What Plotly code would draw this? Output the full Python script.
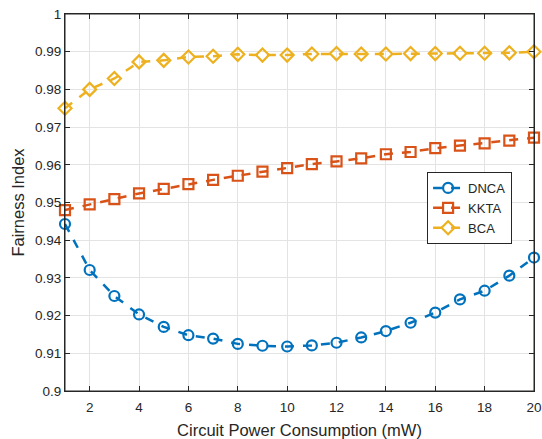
import plotly.graph_objects as go

x_vals = list(range(1, 21))
dnca = [0.9443, 0.9321, 0.9252, 0.9203, 0.9170, 0.9148, 0.9139, 0.9125, 0.9120, 0.9118,
        0.9121, 0.9128, 0.9142, 0.9159, 0.9181, 0.9208, 0.9243, 0.9266, 0.9306, 0.9354]
kkta = [0.9480, 0.9495, 0.9509, 0.9524, 0.9536, 0.9549, 0.9560, 0.9571, 0.9582, 0.9591,
        0.9602, 0.9609, 0.9617, 0.9628, 0.9634, 0.9644, 0.9651, 0.9657, 0.9664, 0.9672]
bca = [0.9750, 0.9800, 0.9829, 0.9873, 0.9877, 0.9886, 0.9888, 0.9893, 0.9891, 0.9891,
       0.9894, 0.9895, 0.9894, 0.9894, 0.9895, 0.9895, 0.9896, 0.9896, 0.9897, 0.9900]
x_ticks = list(range(2, 21, 2))
y_ticks = [0.9, 0.91, 0.92, 0.93, 0.94, 0.95, 0.96, 0.97, 0.98, 0.99, 1.0]
y_ticklabels = ["0.9", "0.91", "0.92", "0.93", "0.94", "0.95", "0.96", "0.97", "0.98", "0.99", "1"]

series = [
    ("DNCA", dnca, "#0072BD", "circle-open"),
    ("KKTA", kkta, "#D95319", "square-open"),
    ("BCA", bca, "#EDB120", "diamond-open"),
]

fig = go.Figure()
for name, vals, color, sym in series:
    fig.add_trace(go.Scatter(
        x=x_vals, y=vals, name=name, mode="lines+markers",
        line=dict(color=color, width=2.5, dash="dash"),
        marker=dict(symbol=sym, size=10, color=color, line=dict(width=2.2, color=color)),
        cliponaxis=False,
    ))

fig.update_xaxes(
    range=[1, 20], tickvals=x_ticks, ticklabelstandoff=4,
    title=dict(text="Circuit Power Consumption (mW)", font=dict(size=16.5), standoff=14),
)
fig.update_yaxes(
    range=[0.9, 1.0], tickvals=y_ticks, ticktext=y_ticklabels,
    title=dict(text="Fairness Index", font=dict(size=16.5), standoff=6),
)
common = dict(
    showline=True, linecolor="#262626", linewidth=1, mirror="allticks",
    ticks="inside", ticklen=5, tickcolor="#262626", tickwidth=1,
    showgrid=True, gridcolor="#E3E3E3", gridwidth=1, zeroline=False,
    tickfont=dict(size=13.5, color="#262626"),
)
fig.update_xaxes(**common)
fig.update_yaxes(**common)

# plot-area frame (paper coordinates)
fig.add_shape(type="rect", xref="paper", yref="paper", x0=0, y0=0, x1=1, y1=1,
              line=dict(color="#262626", width=1), layer="above")

fig.update_layout(
    width=542, height=439,
    margin=dict(l=65, r=8, t=14, b=48, autoexpand=False),
    paper_bgcolor="white", plot_bgcolor="white",
    font=dict(family="Liberation Sans, Arial, sans-serif", size=13, color="#262626"),
    legend=dict(x=0.772, y=0.581, xanchor="left", yanchor="top",
                bgcolor="white", bordercolor="#262626", borderwidth=1,
                font=dict(size=13, color="#262626"), tracegroupgap=0),
    showlegend=True,
)

fig.write_html("out.html", config={"displayModeBar": False},
               post_script="document.body.style.margin='0';document.body.style.overflow='hidden';")
